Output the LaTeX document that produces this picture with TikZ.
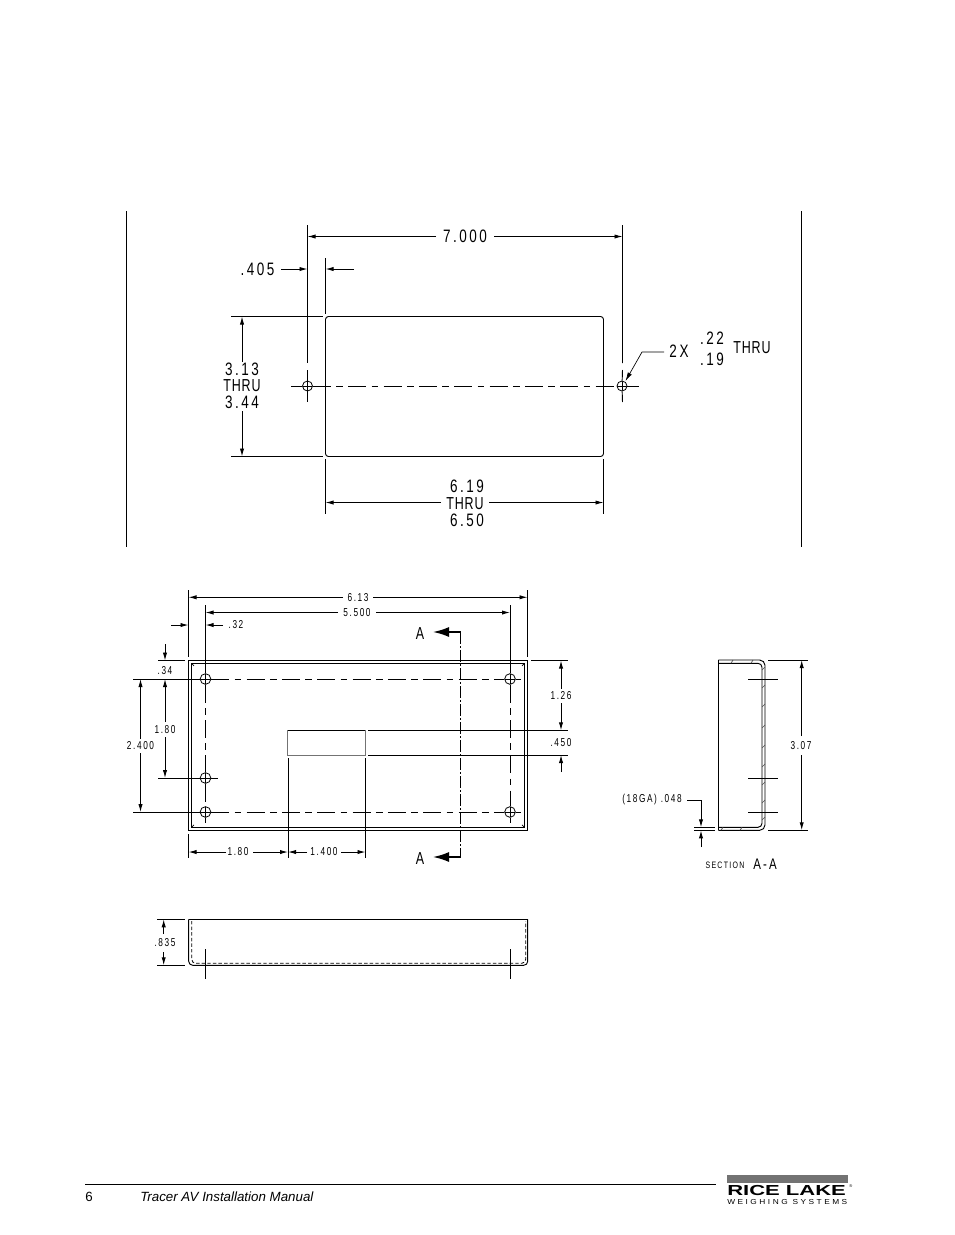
\documentclass[tikz,border=0pt]{standalone}
\usepackage{fontspec}
\usepackage{graphicx}
\usetikzlibrary{arrows.meta}
\setmainfont{Liberation Sans}
\newfontfamily\cadnum[FakeStretch=0.75,LetterSpace=14]{Liberation Sans}
\newfontfamily\cadsm[FakeStretch=0.72,LetterSpace=14]{Liberation Sans}
\newfontfamily\cadword[FakeStretch=0.72,LetterSpace=5]{Liberation Sans}
\tikzset{
  x=0.75pt,y=-0.75pt,
  ln/.style={line width=0.7pt,black},
  thin ln/.style={line width=0.5pt,black},
  dm/.style={line width=0.7pt,black,-{Latex[length=6pt,width=3.2pt]}},
  cl/.style={line width=0.7pt,black,dash pattern=on 13.5pt off 4pt on 5pt off 4pt},
  cut/.style={line width=0.7pt,black,dash pattern=on 9pt off 1.5pt on 1.5pt off 1.5pt},
  sec/.style={line width=1.3pt,black,-{Latex[length=12pt,width=7.5pt]}},
  big/.style={inner sep=0pt,font=\fontsize{13.5pt}{15pt}\selectfont\cadnum},
  bigw/.style={inner sep=0pt,font=\fontsize{13pt}{15pt}\selectfont\cadword},
  small/.style={inner sep=0pt,font=\fontsize{8.6pt}{9pt}\selectfont\cadsm},
  hole/.style={circle,draw,line width=0.6pt,inner sep=0pt,minimum size=7.5pt,
    path picture={\draw[line width=0.6pt] (path picture bounding box.west)--(path picture bounding box.east)
      (path picture bounding box.north)--(path picture bounding box.south);}},
  holem/.style={hole,minimum size=8pt}
}
\begin{document}
\begin{tikzpicture}
\useasboundingbox (0,0) rectangle (954,1235);
% ---------- top view
\draw[line width=0.6pt] (126,211)--(126,547);
\draw[line width=0.6pt] (801,211)--(801,547);
\draw[ln,rounded corners=2.2pt] (325.5,316.5) rectangle (603.5,456.5);
\node[hole] (ta) at (307.5,386) {};
\node[hole] (tb) at (622,386) {};
\coordinate (tcl) at (291,386); \coordinate (tcr) at (639,386);
\draw[cl] (ta)--(tb);
\draw[ln] (tcl)--(ta); \draw[ln] (tb)--(tcr);
\draw[ln] (307.5,225)--(307.5,363) (307.5,370)--(ta) (ta)--(307.5,402);
\draw[ln] (622.5,225)--(622.5,363) (622.5,370)--(tb) (tb)--(622.5,402);
\draw[ln] (325.5,258)--(325.5,314) (325.5,459)--(325.5,514) (603.5,459)--(603.5,514);
\draw[ln] (231,316.5)--(323,316.5) (231,456.5)--(323,456.5);
\node[big] (t7) at (465,236.5) {7.000};
\draw[dm] (t7) ++(-29,0) -- (307.5,236.5);
\draw[dm] (t7) ++(29,0) -- (622.5,236.5);
\node[big] (t405) at (257.5,269) {.405};
\draw[dm] (281,269)--(307.5,269);
\draw[dm] (354,269)--(325.5,269);
\node[big] (t313) at (242,369) {3.13};
\node[bigw] (tth) at (242,386) {THRU};
\node[big] (t344) at (242,402.5) {3.44};
\draw[dm] (242,362)--(242,316.5);
\draw[dm] (242,411)--(242,456.5);
\node[big] (t619) at (467,486.5) {6.19};
\node[bigw] (tth2) at (465,503.5) {THRU};
\node[big] (t650) at (467,520.5) {6.50};
\draw[dm] (441,502.5)--(325.5,502.5);
\draw[dm] (489,502.5)--(603.5,502.5);
\node[big] (t2x) at (679,351) {2X};
\node[big] (t22) at (712,338) {.22};
\node[big] (t19) at (712,359) {.19};
\node[bigw] (tth3) at (752,348) {THRU};
\coordinate (ldA) at (664,352); \coordinate (ldB) at (642,352);
\draw[thin ln,-{Latex[length=6.5pt,width=3.4pt]}] (ldA)--(ldB)--(625.5,381);
% ---------- front view
\draw[ln] (188.5,660.5) rectangle (527.5,830);
\draw[ln] (191.5,663.3) rectangle (524.5,827.3);
\draw[thin ln] (191.5,663.3)--(194,665.8) (524.5,663.3)--(522,665.8) (191.5,827.3)--(194,824.8) (524.5,827.3)--(522,824.8);
\node[holem] (h1) at (205.5,679) {};
\node[holem] (h2) at (510,679) {};
\node[holem] (h3) at (205.5,778) {};
\node[holem] (h4) at (205.5,812) {};
\node[holem] (h5) at (510,812) {};
\draw[cl] (h1)--(h2); \draw[cl] (h4)--(h5);
\draw[cl] (h1)--(h3); \draw[cl] (h3)--(h4);
\draw[cl] (h2)--(h5);
\draw[ln] (h2)--(521,679) (h5)--(521,812) (h3)--(218,778);
\draw[ln] (h4)--(205.5,823) (h5)--(510,823);
\draw[ln] (133,679)--(h1) (133,812)--(h4) (158,778)--(h3);
\draw[ln] (188.5,590)--(188.5,657) (527.5,590)--(527.5,657);
\draw[ln] (205.5,605)--(h1) (510,605)--(h2);
\node[small] (m613) at (358,597.3) {6.13};
\draw[dm] (343,597.3)--(188.5,597.3);
\draw[dm] (373,597.3)--(527.5,597.3);
\node[small] (m5500) at (357,612.5) {5.500};
\draw[dm] (338,612.5)--(205.5,612.5);
\draw[dm] (376,612.5)--(510,612.5);
\draw[dm] (171,625)--(188.5,625);
\draw[dm] (223,625)--(205.5,625);
\node[small] (m32) at (236,625) {.32};
\draw[ln] (158,660.5)--(185,660.5);
\draw[dm] (165,644)--(165,660.5);
\node[small] (m34) at (165,671) {.34};
\node[small] (m180a) at (165,729.5) {1.80};
\draw[dm] (165,722)--(165,679);
\draw[dm] (165,737)--(165,778);
\node[small] (m2400) at (140.5,746) {2.400};
\draw[dm] (140.5,739)--(140.5,679);
\draw[dm] (140.5,753)--(140.5,812);
\draw[ln] (287.8,730.3)--(365.5,730.3);
\draw[line width=0.7pt,black!55] (287.8,730.3)--(287.8,755)--(365.5,755)--(365.5,730.3);
\draw[ln] (368,730.3)--(568,730.3) (368,755)--(568,755);
\draw[ln] (288,758)--(288,858) (365.5,758)--(365.5,858) (188.5,834)--(188.5,858);
\node[small] (m180b) at (238,852) {1.80};
\draw[dm] (226,852)--(188.5,852);
\draw[dm] (253,852)--(288,852);
\node[small] (m1400) at (324,852) {1.400};
\draw[dm] (307,852)--(288,852);
\draw[dm] (341,852)--(365.5,852);
\draw[ln] (531,660.5)--(568,660.5);
\node[small] (m126) at (561,696) {1.26};
\draw[dm] (561,689)--(561,660.5);
\draw[dm] (561,703)--(561,730.3);
\node[small] (m450) at (561,743) {.450};
\draw[dm] (561,772)--(561,755);
\node[bigw] (ma1) at (420,633.5) {A};
\node[bigw] (ma2) at (420,858.5) {A};
\coordinate (ca) at (460.5,632); \coordinate (cb) at (460.5,857);
\draw[cut] (ca)--(cb);
\draw[sec] (ca)--(433,632);
\draw[sec] (cb)--(433,857);
% ---------- section A-A
\draw[ln] (718.3,660)--(718.3,830.3);
\draw[ln,rounded corners=4pt] (718.3,660)--(765,660)--(765,830.3)--(718.3,830.3);
\draw[ln,rounded corners=3pt] (718.3,663.3)--(762,663.3)--(762,827.3)--(718.3,827.3);
\foreach \yy in {670,688,707,728,748,767,785,803,820}{\draw[thin ln,black!70] (762,\yy)--(765,\yy-3);}
\foreach \xx in {732,752}{\draw[thin ln,black!70] (\xx-1,663.3)--(\xx+1,660);}
\foreach \xx in {722,741}{\draw[thin ln,black!70] (\xx-1,830.3)--(\xx+1,827.3);}
\draw[ln] (748,679.3)--(778,679.3) (748,778.3)--(778,778.3) (748,812.3)--(778,812.3);
\draw[ln] (768,660)--(808,660) (768,830.3)--(808,830.3);
\node[small] (s307) at (801,745.5) {3.07};
\draw[dm] (801.7,736)--(801.7,660);
\draw[dm] (801.7,755)--(801.7,830.3);
\node[small] (s048) at (652,800) {(18GA) .048};
\draw[dm] (687,800)--(701,800)--(701,827.3);
\draw[dm] (701,847)--(701,830.3);
\draw[ln] (694,827.3)--(715,827.3) (694,830.3)--(715,830.3);
\node[small,font=\fontsize{7pt}{8pt}\selectfont\cadnum] (ssec) at (725,865) {SECTION};
\node[big,font=\fontsize{11.5pt}{12pt}\selectfont\cadnum] (saa) at (765,864) {A-A};
% ---------- side view
\draw[ln] (188.7,919.3)--(527.7,919.3);
\draw[ln,rounded corners=3pt] (188.7,919.3)--(188.7,965.3)--(527.7,965.3)--(527.7,919.3);
\draw[line width=0.6pt,black,dash pattern=on 2.6pt off 1.6pt,rounded corners=3pt] (191.7,921)--(191.7,963.3)--(525.7,963.3)--(525.7,921);
\draw[ln] (205.3,949)--(205.3,979) (510.3,949)--(510.3,979);
\draw[ln] (157,919.3)--(185,919.3) (157,965.3)--(185,965.3);
\node[small] (b835) at (165,942.5) {.835};
\draw[dm] (163.7,934)--(163.7,919.3);
\draw[dm] (163.7,952)--(163.7,965.3);
% ---------- footer
\draw[line width=0.6pt] (85,1184)--(716,1184);
\node[anchor=base west,inner sep=0pt,font=\fontsize{10pt}{12pt}\selectfont] (fpg) at (85,1201) {6};
\node[anchor=base west,inner sep=0pt,font=\fontsize{10pt}{12pt}\selectfont\itshape] (ftt) at (140,1201) {Tracer AV Installation Manual};
\fill[black!55] (727,1175) rectangle (848,1183);
\node[anchor=north west,inner sep=0pt] (lg) at (727,1185) {\resizebox{89pt}{7.6pt}{\bfseries RICE LAKE}};
\node[anchor=west,inner sep=0pt,font=\fontsize{3pt}{3pt}\selectfont] (lgr) at (849,1186) {®};
\node[anchor=north west,inner sep=0pt] (lgs) at (727,1199) {\resizebox{90pt}{3.8pt}{\addfontfeature{LetterSpace=30}WEIGHING SYSTEMS}};
\end{tikzpicture}
\end{document}
